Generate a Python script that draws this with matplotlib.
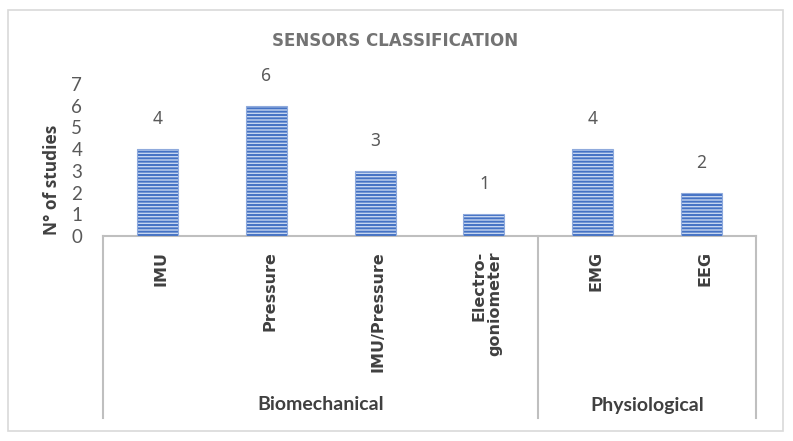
import matplotlib
matplotlib.use("Agg")
import matplotlib.pyplot as plt
from matplotlib.patches import Rectangle
from matplotlib.lines import Line2D
from matplotlib.transforms import blended_transform_factory

categories = ["IMU", "Pressure", "IMU/Pressure", "Electro-\ngoniometer", "EMG", "EEG"]
values = [4, 6, 3, 1, 4, 2]
groups = ["Biomechanical", "Physiological"]
group_sizes = [4, 2]
yticks = [0, 1, 2, 3, 4, 5, 6, 7]
title = "SENSORS CLASSIFICATION"
ylabel = "N° of studies"

W, H = 793, 441
fig = plt.figure(figsize=(W / 100, H / 100), dpi=100)
plt.rcParams['hatch.linewidth'] = 1.4

ax_l, ax_r, ax_t, ax_b = 103, 756, 84, 236
ax = fig.add_axes([ax_l / W, 1 - ax_b / H, (ax_r - ax_l) / W, (ax_b - ax_t) / H])

x = list(range(len(categories)))
bw = 0.377
ax.bar(x, values, width=bw, color="#C5D5F0", edgecolor="none", zorder=2)
ax.bar(x, values, width=bw, color="none", edgecolor="#4472C4", hatch="-----", linewidth=0, zorder=3)
ax.bar(x, values, width=bw, color="none", edgecolor="#8FAADC", linewidth=0.8, zorder=4)

for xi, v in zip(x, values):
    ax.annotate(str(v), (xi, v), xytext=(0, 15), textcoords="offset points",
                ha="center", va="bottom", fontsize=12.5, color="#595959", family="Noto Sans")

ax.set_xlim(-0.5, len(categories) - 0.5)
ax.set_ylim(0, 7)
ax.set_yticks(yticks)
ax.set_yticklabels([str(t) for t in yticks], fontsize=13.5, color="#595959", family="Lato")
ax.tick_params(axis="y", length=0, pad=15)
ax.set_xticks([])
for s in ["top", "right", "left"]:
    ax.spines[s].set_visible(False)
ax.spines["bottom"].set_color("#BFBFBF")
ax.spines["bottom"].set_linewidth(1.5)

# category labels
tr = blended_transform_factory(ax.transData, fig.transFigure)
for xi, c in zip(x, categories):
    ax.text(xi + 0.03, 1 - 251 / H, c, transform=tr, rotation=90, ha="center", va="top",
            multialignment="right", fontsize=11.5, fontweight="bold", color="#404040",
            family="DejaVu Sans", linespacing=1.05)

# group separators and labels
bounds = [-0.5]
for gs in group_sizes:
    bounds.append(bounds[-1] + gs)
for b in bounds:
    fig.add_artist(Line2D([b, b], [1 - ax_b / H, 1 - 418 / H], transform=tr,
                          color="#BFBFBF", linewidth=1.5))
for i, g in enumerate(groups):
    cx = (bounds[i] + bounds[i + 1]) / 2
    fig.text(cx, 1 - 405 / H, g, transform=tr, ha="center", va="center",
             fontsize=14, fontweight="bold", color="#404040", family="Lato")

fig.text(52 / W, 1 - 180 / H, ylabel, rotation=90, ha="center", va="center",
         fontsize=12.5, fontweight="bold", color="#404040", family="Open Sans")

fig.text(395 / W, 1 - 41 / H, title, ha="center", va="center", fontsize=12,
         color="#737373", family="DejaVu Sans", fontweight="bold")

fig.add_artist(Rectangle((8 / W, 1 - 431 / H), 775 / W, 421 / H, transform=fig.transFigure,
                         fill=False, edgecolor="#D9D9D9", linewidth=1.2))

fig.savefig("out.png", dpi=100)
